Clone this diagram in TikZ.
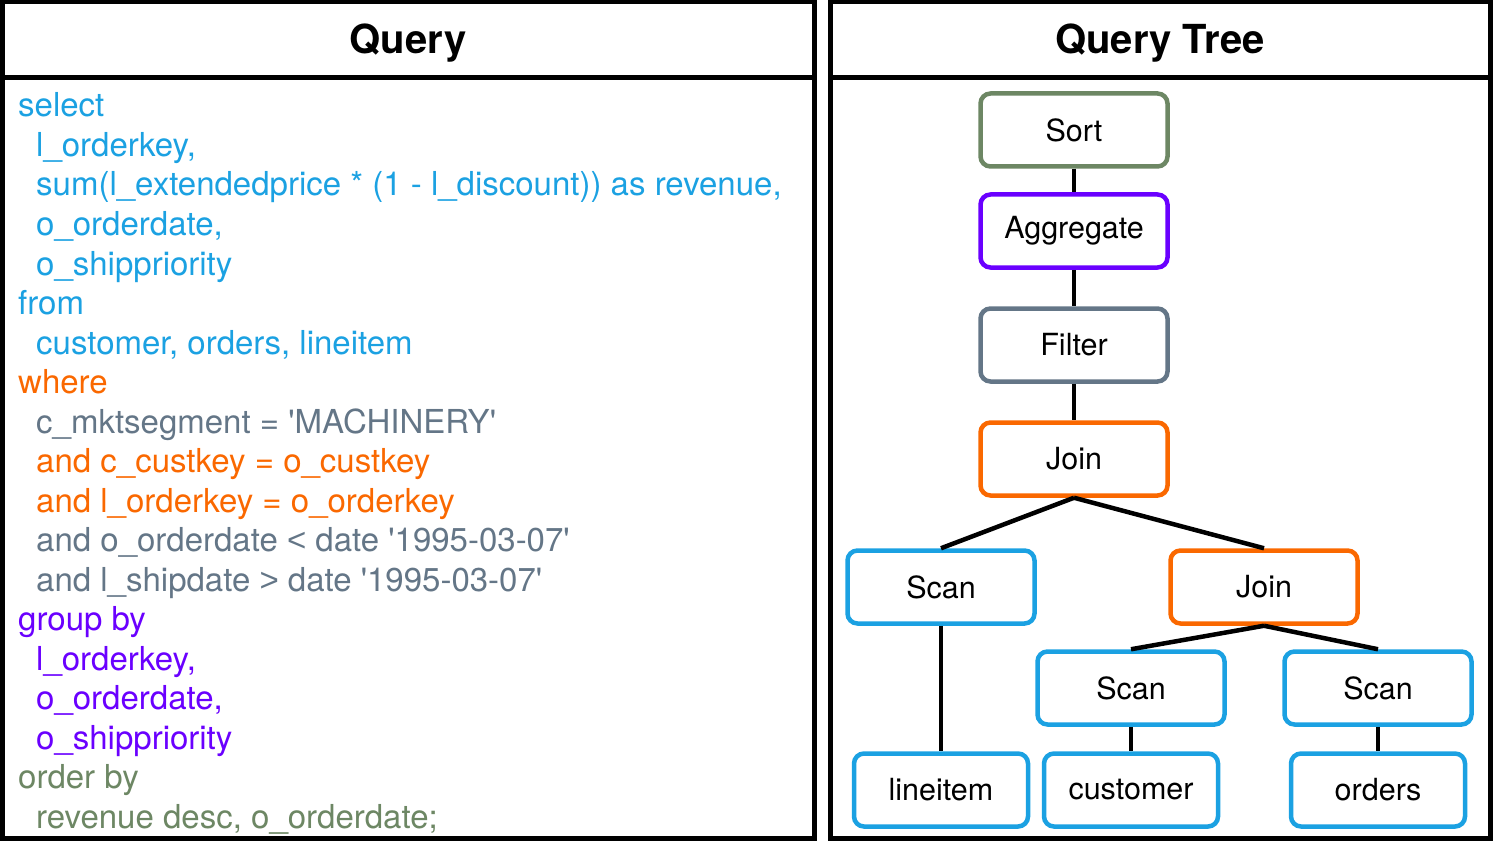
\documentclass[tikz,border=0pt]{standalone}
\usepackage{fontspec}
\setmainfont{TeX Gyre Heros}
\newfontfamily\cmpfont{Liberation Sans}
\usetikzlibrary{positioning}

\definecolor{sqlblue}{HTML}{1BA1E2}
\definecolor{sqlorange}{HTML}{FA6800}
\definecolor{sqlslate}{HTML}{647687}
\definecolor{sqlviolet}{HTML}{6A00FF}
\definecolor{sqlgreen}{HTML}{6D8764}

\newcommand{\codefont}{\fontsize{33}{40}\selectfont}
\newcommand{\q}{\textquotesingle}

\begin{document}
\begin{tikzpicture}[
          x=1pt, y=-1pt,
          panel/.style={draw, line width=5pt},
          title/.style={font=\fontsize{40}{48}\selectfont\bfseries},
          code/.style={anchor=base west, inner sep=0pt, font=\codefont},
          op/.style={draw=#1, line width=4.5pt, rounded corners=10pt, fill=white,
            minimum width=187pt, minimum height=73pt, font=\fontsize{30.5}{36}\selectfont},
          leaf/.style={op=#1, minimum width=174pt},
          edge/.style={line width=4.5pt}
        ]
        \useasboundingbox (0,0) rectangle (1495,850);

        % Panels
        \draw[panel] (2.5,2) rectangle (814,838);
        \draw[panel] (2.5,78) -- (814,78);
        \draw[panel] (830,2) rectangle (1490,838);
        \draw[panel] (830,78) -- (1490,78);
        \node[title] (qtitle) at (408,43) {Query};
        \node[title] (ttitle) at (1160,43) {Query Tree};

        % The query
        \node[code, sqlblue] (select) at (18,117) {select};
        \node[code, sqlblue] (s1) at (36,156.5) {l\_orderkey,};
        \node[code, sqlblue] (s2) at (36,196) {sum(l\_extendedprice * (1 - l\_discount)) as revenue,};
        \node[code, sqlblue] (s3) at (36,235.5) {o\_orderdate,};
        \node[code, sqlblue] (s4) at (36,275) {o\_shippriority};
        \node[code, sqlblue] (from) at (18,314.5) {from};
        \node[code, sqlblue] (f1) at (36,354) {customer, orders, lineitem};
        \node[code, sqlorange] (where) at (18,393.5) {where};
        \node[code, sqlslate] (w1) at (36,433) {c\_mktsegment = \q MACHINERY\q};
        \node[code, sqlorange] (w2) at (36,472.5) {and c\_custkey = o\_custkey};
        \node[code, sqlorange] (w3) at (36,512) {and l\_orderkey = o\_orderkey};
        \node[code, sqlslate] (w4) at (36,551.5) {and o\_orderdate {\cmpfont <} date \q 1995-03-07\q};
        \node[code, sqlslate] (w5) at (36,591) {and l\_shipdate {\cmpfont >} date \q 1995-03-07\q};
        \node[code, sqlviolet] (group) at (18,630.5) {group by};
        \node[code, sqlviolet] (g1) at (36,670) {l\_orderkey,};
        \node[code, sqlviolet] (g2) at (36,709.5) {o\_orderdate,};
        \node[code, sqlviolet] (g3) at (36,749) {o\_shippriority};
        \node[code, sqlgreen] (order) at (18,788.5) {order by};
        \node[code, sqlgreen] (o1) at (36,828) {revenue desc, o\_orderdate;};

        % The tree
        \node[op=sqlgreen] (sort) at (1074,130) {Sort};
        \node[op=sqlviolet] (agg) at (1074,231) {Aggregate};
        \node[op=sqlslate] (filter) at (1074,345) {Filter};
        \node[op=sqlorange] (join) at (1074,459) {Join};
        \node[op=sqlblue] (scanl) at (941,587) {Scan};
        \node[op=sqlorange] (joinr) at (1264,587) {Join};
        \node[op=sqlblue] (scanc) at (1131,688) {Scan};
        \node[op=sqlblue] (scano) at (1378,688) {Scan};
        \node[leaf=sqlblue] (lineitem) at (941,790) {lineitem};
        \node[leaf=sqlblue] (customer) at (1131,790) {customer};
        \node[leaf=sqlblue] (orders) at (1378,790) {orders};

        % Draw the edges
        \draw[edge] (sort.south) -- (agg.north);
        \draw[edge] (agg.south) -- (filter.north);
        \draw[edge] (filter.south) -- (join.north);
        \draw[edge] (join.south) -- (scanl.north);
        \draw[edge] (join.south) -- (joinr.north);
        \draw[edge] (joinr.south) -- (scanc.north);
        \draw[edge] (joinr.south) -- (scano.north);
        \draw[edge] (scanl.south) -- (lineitem.north);
        \draw[edge] (scanc.south) -- (customer.north);
        \draw[edge] (scano.south) -- (orders.north);
      \end{tikzpicture}
\end{document}
